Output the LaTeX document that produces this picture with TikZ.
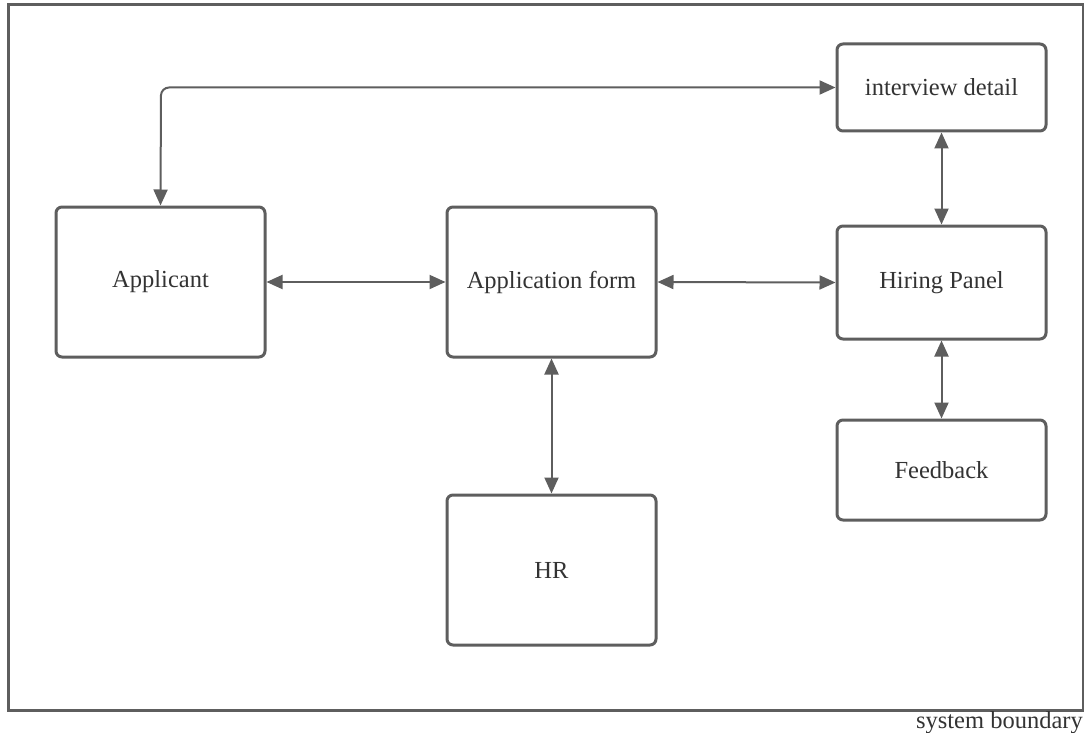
\documentclass[tikz,border=0pt]{standalone}
\usepackage{fontspec}
\setmainfont{Liberation Serif}
\usetikzlibrary{arrows.meta}
\definecolor{ln}{HTML}{5E5E5E}
\definecolor{tx}{HTML}{333333}
\tikzset{
  box/.style={draw=ln, line width=3pt, rounded corners=6pt, fill=white, inner sep=0pt, text=tx, font=\fontsize{24.5}{28}\selectfont},
  conn/.style={draw=ln, line width=2pt, {Triangle[length=16pt,width=14pt]}-{Triangle[length=16pt,width=14pt]}},
}
\begin{document}
\begin{tikzpicture}[x=1pt,y=-1pt]
\useasboundingbox (0,0) rectangle (1084,733);
\draw[draw=ln, line width=3pt] (8,5) rectangle (1083,710);
\node[anchor=north east, text=tx, font=\fontsize{24.5}{28}\selectfont, inner sep=0pt] (sb) at (1083,711) {system boundary};
\node[box, minimum width=209pt, minimum height=87pt] (int) at (941.5,87.5) {interview detail};
\node[box, minimum width=209pt, minimum height=150pt] (app) at (160.5,282) {Applicant};
\node[box, minimum width=209pt, minimum height=150pt] (form) at (551.5,282) {Application form};
\node[box, minimum width=209pt, minimum height=113pt] (hire) at (941.5,282.5) {Hiring Panel};
\node[box, minimum width=209pt, minimum height=100pt] (fb) at (941.5,470) {Feedback};
\node[box, minimum width=209pt, minimum height=150pt] (hr) at (551.5,570) {HR};
\draw[conn] (app.east) -- (form.west);
\draw[conn] (form.east) -- (hire.west);
\draw[conn] (form.south) -- (hr.north);
\draw[conn] (int.south) -- (hire.north);
\draw[conn] (hire.south) -- (fb.north);
\draw[conn, rounded corners=8pt] (int.west) -- (161,87.5) -- (app.north);
\end{tikzpicture}
\end{document}
